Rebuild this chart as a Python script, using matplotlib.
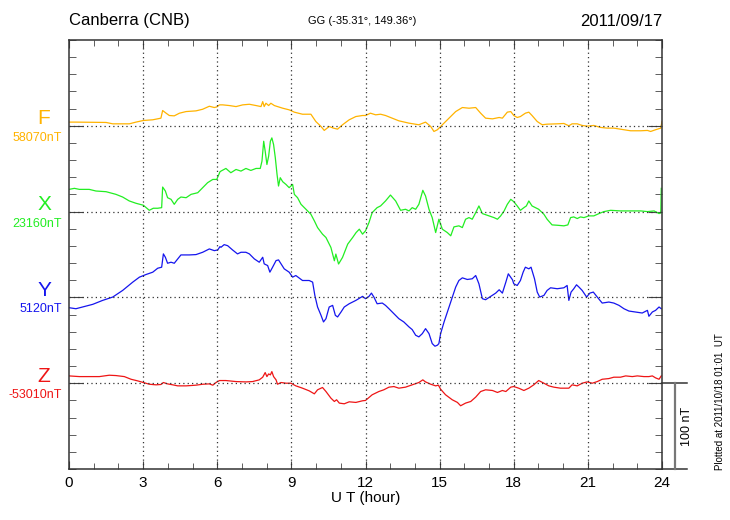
import numpy as np
import matplotlib
matplotlib.use('Agg')
import matplotlib.pyplot as plt
from matplotlib.ticker import MultipleLocator
import matplotlib.transforms as mtransforms

plt.rcParams['font.family'] = ['Liberation Sans', 'DejaVu Sans']

# hours (UT) and deviation from baseline (nT)
f_hr = [0, 0.28, 1.5, 1.77, 2.44, 2.71, 3.01, 3.39, 3.72, 3.79, 3.93, 4.06, 4.26, 4.47, 4.74, 5.14, 5.41, 5.68, 5.88, 5.98, 6.09,
        6.22, 6.49, 6.76, 7.03, 7.3, 7.57, 7.77, 7.84, 7.9, 7.97, 8.08, 8.17, 8.31, 8.44, 8.65, 8.91, 9.12, 9.45, 9.79, 9.99,
        10.2, 10.33, 10.53, 10.7, 10.87, 11.07, 11.34, 11.61, 11.88,
        12.0, 12.2, 12.41, 12.61, 12.81, 13.08, 13.35, 13.76, 14.16, 14.43, 14.64, 14.77, 14.91, 15.11, 15.38, 15.65, 15.92,
        16.19, 16.46, 16.66, 16.86, 17.14, 17.41, 17.54, 17.74, 17.88,
        18.0, 18.14, 18.27, 18.47, 18.61, 18.74, 18.95, 19.15, 19.35, 19.76, 20.03, 20.23, 20.36, 20.57, 20.77, 20.97, 21.24,
        21.51, 21.78, 22.05, 22.46, 22.73, 23.14, 23.41, 23.54, 23.74, 23.95, 24.0]
f_nt = [4.3, 4.3, 3.9, 2.3, 2.3, 4.3, 6.2, 7.0, 8.9, 17.8, 14.7, 12.0, 11.6, 14.7, 16.6, 17.4, 19.3, 22.8, 21.3, 22.0, 24.4,
        24.4, 23.6, 22.4, 24.4, 25.1, 23.6, 22.4, 28.2, 22.4, 26.3, 23.6, 26.3, 23.6, 22.4, 20.5, 18.6, 15.9, 13.5, 13.5, 5.0,
        -0.8, -5.4, -0.8, -2.7, -3.9, 1.2, 7.0, 10.8, 12.0,
        12.0, 14.7, 12.8, 13.5, 12.0, 8.9, 5.8, 3.1, 1.2, 4.3, -0.8, -6.6, -4.6, 1.2, 8.9, 16.6, 21.3,
        20.5, 21.3, 14.7, 8.9, 8.1, 9.7, 8.9, 15.9, 16.6,
        12.0, 9.7, 10.8, 14.7, 15.9, 12.0, 5.0, 1.2, 1.9, 2.3, 2.7, 0.0, 2.3, 2.3, 0.4, -0.4, 0.4,
        -1.9, -2.7, -2.7, -4.6, -5.8, -5.8, -5.4, -6.6, -4.6, -2.7, 5.0]

x_hr = [0, 0.22, 0.42, 0.82, 1.09, 1.5, 1.9, 2.17, 2.44, 2.71, 3.01, 3.25, 3.41, 3.59, 3.75, 3.79, 3.9, 3.99, 4.13, 4.26,
        4.4, 4.53, 4.74, 4.94, 5.21, 5.41, 5.61, 5.82, 5.98, 6.11,
        6.15, 6.35, 6.55, 6.76, 6.96, 7.16, 7.36, 7.57, 7.74, 7.81, 7.88, 7.94, 8.01, 8.08, 8.15, 8.21, 8.28, 8.35, 8.42,
        8.48, 8.55, 8.65, 8.78, 8.91, 9.05, 9.12, 9.25, 9.39, 9.59, 9.79, 9.93, 10.06, 10.26, 10.4, 10.6, 10.74, 10.8,
        10.91, 11.07, 11.28, 11.48, 11.62, 11.75, 11.88,
        12.0, 12.14, 12.27, 12.47, 12.61, 12.81, 13.01, 13.22, 13.42, 13.62, 13.76, 13.89, 14.03, 14.16, 14.32, 14.43,
        14.57, 14.7, 14.84, 14.97, 15.11, 15.31, 15.45, 15.58, 15.78, 15.92, 16.05, 16.19, 16.32, 16.46, 16.59, 16.73,
        17.0, 17.2, 17.34, 17.47, 17.61, 17.74, 17.88,
        18.0, 18.14, 18.27, 18.41, 18.51, 18.61, 18.74, 18.88, 19.01, 19.22, 19.35, 19.55, 19.76, 20.03, 20.19, 20.3,
        20.43, 20.57, 20.7, 20.84, 21.04, 21.24, 21.45, 21.65, 21.92, 22.32, 22.73, 23.14, 23.41, 23.68, 23.88, 23.95, 23.97]
x_nt = [25.9, 27.1, 25.9, 25.9, 24.0, 23.2, 20.1, 17.0, 12.4, 9.7, 7.4, 1.5, 3.9, 3.9, 4.6, 28.6, 24.0, 16.2, 14.3, 8.5,
        14.3, 17.0, 16.2, 20.1, 22.0, 27.9, 33.7, 37.5, 37.5, 46.4,
        47.2, 50.3, 45.3, 49.1, 47.2, 50.3, 48.0, 50.3, 50.3, 58.8, 82.0, 70.4, 54.9, 64.6, 82.0, 85.9, 78.1, 62.7, 43.3,
        29.8, 39.5, 34.8, 31.7, 27.9, 31.7, 20.1, 16.2, 8.5, 2.7, -3.1, -10.8, -18.6, -26.3, -30.2, -41.8, -57.3, -49.5,
        -61.1, -53.4, -37.9, -30.2, -24.4, -20.5, -26.3,
        -22.4, -12.8, -1.2, 4.6, 6.6, 12.4, 19.3, 12.4, 1.5, 2.7, 0.8, 4.6, 2.7, 8.5, 24.8, 18.2,
        2.7, -7.0, -24.4, -8.9, -20.5, -24.4, -28.2, -17.8, -16.6, -18.6, -8.9, -7.0, -8.9, -1.2, 6.6, -2.3,
        -5.0, -7.0, -8.9, -5.0, 0.8, 8.5, 14.3,
        11.6, 6.6, 1.5, 4.6, 6.6, 12.4, 6.6, 4.6, 2.7, -3.1, -8.9, -15.5, -15.9, -16.6, -15.5, -7.0,
        -6.2, -8.1, -6.2, -7.0, -5.0, -5.0, -2.3, 0.0, 1.5, 0.8, 0.8, 0.8, 0.0, 0.8, -2.3, -1.5, 27.1]

y_hr = [0, 0.28, 0.55, 0.96, 1.36, 1.77, 2.17, 2.58, 2.85, 3.12, 3.39, 3.59, 3.75, 3.82, 3.9, 3.99, 4.13, 4.26, 4.4, 4.53,
        4.87, 5.14, 5.41, 5.68, 5.88, 6.02, 6.11,
        6.15, 6.28, 6.42, 6.62, 6.82, 6.96, 7.16, 7.3, 7.5, 7.7, 7.84, 7.9, 8.04, 8.13, 8.24, 8.38, 8.48, 8.58, 8.71, 8.91,
        9.05, 9.18, 9.45, 9.72, 9.86, 9.95, 10.06, 10.2, 10.3, 10.4, 10.53, 10.67, 10.78, 10.87, 11.01, 11.14, 11.34,
        11.61, 11.88,
        12.0, 12.14, 12.24, 12.34, 12.47, 12.68, 12.81, 12.95, 13.15, 13.35, 13.55, 13.76, 13.89, 14.03, 14.16, 14.3,
        14.43, 14.57, 14.7, 14.81, 14.91, 14.97, 15.04, 15.18, 15.38, 15.51, 15.65, 15.78, 15.92, 16.12, 16.32, 16.46,
        16.59, 16.73, 16.86, 17.07, 17.27, 17.41, 17.54, 17.68, 17.78, 17.95,
        18.0, 18.14, 18.27, 18.38, 18.47, 18.61, 18.7, 18.84, 18.95, 19.05, 19.22, 19.35, 19.49, 19.76, 20.03, 20.16,
        20.23, 20.32, 20.43, 20.54, 20.64, 20.77, 20.95, 21.08, 21.22, 21.38, 21.58, 21.85, 22.05, 22.26, 22.46, 22.66,
        22.93, 23.2, 23.41, 23.47, 23.61, 23.74, 23.88, 23.97]
y_nt = [-12.0, -13.2, -11.2, -8.1, -3.5, 0.4, 8.1, 17.8, 23.6, 26.7, 29.4, 34.0, 35.2, 50.7, 46.8, 39.8, 41.0, 39.8, 44.9,
        49.5, 49.5, 49.9, 52.6, 56.5, 54.5, 55.3, 59.2,
        58.4, 61.5, 60.3, 55.3, 50.7, 52.6, 52.6, 50.7, 44.9, 41.0, 46.8, 39.1, 37.1, 29.4, 35.2, 42.9, 43.7, 39.1, 33.3,
        29.4, 23.6, 25.5, 19.7, 19.7, 17.8, 2.3, -11.2, -20.9, -28.6, -24.8, -11.2, -9.3, -20.9, -22.8, -17.0, -11.2,
        -7.4, -3.5, 1.2,
        -1.5, 1.2, 5.0, 0.4, -7.4, -6.6, -9.3, -13.2, -19.0, -24.8, -28.6, -34.4, -37.5, -44.1, -46.0, -42.2,
        -36.4, -42.2, -53.8, -56.9, -55.7, -53.8, -42.2, -28.6, -11.2, 0.4, 12.0, 19.7, 22.8, 20.9, 21.7, 25.5,
        15.9, -1.5, -2.7, 1.2, 5.0, 8.9, 5.0, 17.8, 27.5, 20.5,
        15.9, 13.9, 19.7, 29.4, 35.2, 33.3, 35.2, 21.7, 6.2, 0.4, 2.3, 8.1, 11.2, 10.1, 11.2, 13.9,
        -3.5, 6.2, 10.1, 14.7, 12.0, 8.1, 0.4, 5.0, 6.2, 0.4, -6.6, -5.4, -6.6, -9.3, -13.2, -15.9,
        -17.0, -18.2, -15.1, -22.0, -17.0, -15.1, -11.2, -13.2]

z_hr = [0, 0.42, 0.82, 1.23, 1.63, 1.9, 2.24, 2.51, 2.78, 3.01, 3.25, 3.52, 3.72, 3.82, 3.99, 4.2, 4.4, 4.74, 5.14, 5.41,
        5.68, 5.82, 5.95, 6.09,
        6.35, 6.76, 7.16, 7.43, 7.7, 7.84, 7.94, 8.01, 8.08, 8.15, 8.21, 8.28, 8.38, 8.44, 8.58, 8.78, 8.98, 9.18, 9.45,
        9.72, 9.93, 10.06, 10.26, 10.4, 10.6, 10.74, 10.83, 10.94, 11.14, 11.34, 11.61, 11.88,
        12.0, 12.27, 12.54, 12.74, 12.95, 13.15, 13.35, 13.62, 13.89, 14.16, 14.32, 14.43, 14.64, 14.84, 14.95, 15.04,
        15.24, 15.51, 15.72, 15.85, 16.05, 16.26, 16.46, 16.66, 16.86, 17.14, 17.34, 17.54, 17.68, 17.88,
        18.0, 18.2, 18.41, 18.61, 18.81, 19.01, 19.22, 19.42, 19.62, 19.89, 20.23, 20.36, 20.57, 20.77, 20.97, 21.18,
        21.38, 21.58, 21.85, 22.05, 22.32, 22.53, 22.8, 23.0, 23.27, 23.47, 23.61, 23.74, 23.88, 23.97]
z_nt = [8.5, 7.7, 7.7, 7.7, 9.3, 8.9, 7.7, 4.6, 2.7, 0.8, -1.2, -1.9, -1.5, 0.8, -0.8, -1.9, -3.1, -3.1, -2.3, -1.2,
        -0.8, -2.3, 0.8, 3.1,
        3.1, 1.9, 1.5, 1.9, 3.9, 7.0, 12.4, 7.7, 10.8, 9.7, 13.5, 7.7, 3.9, -1.2, 0.8, 0.0, 0.0, -3.1, -5.8,
        -8.9, -12.4, -7.7, -5.0, -9.7, -17.4, -21.3, -19.3, -23.2, -24.0, -21.7, -22.4, -20.5,
        -20.1, -13.5, -9.7, -7.7, -4.6, -3.9, -5.8, -4.6, -1.9, 0.8, 3.9, 1.5, -1.2, -3.1, -2.3, -7.0,
        -13.5, -19.3, -22.4, -26.3, -23.2, -21.3, -16.2, -9.7, -7.7, -8.5, -10.8, -8.5, -9.7, -4.6,
        -3.9, -5.8, -8.5, -5.8, -1.9, 3.1, 0.0, -3.1, -4.6, -5.8, -5.8, -1.9, -3.1, 0.0, 1.5, 0.0,
        1.9, 4.6, 5.4, 7.0, 7.0, 8.5, 7.7, 8.5, 7.7, 7.7, 8.5, 6.2, 4.6, 8.5]

names = ['F', 'X', 'Y', 'Z']
base_vals = ['58070nT', '23160nT', '5120nT', '-53010nT']
colors = ['#ffb300', '#22ee22', '#1515ee', '#ee1515']
series = [(f_hr, f_nt), (x_hr, x_nt), (y_hr, y_nt), (z_hr, z_nt)]
offsets = [300, 200, 100, 0]

fig = plt.figure(figsize=(7.3, 5.2), dpi=100)
ax = fig.add_axes([69 / 730, 1 - 469 / 520, 593 / 730, 429 / 520])

for (hr, nt), off, c in zip(series, offsets, colors):
    ax.plot(hr, np.array(nt) + off, color=c, lw=0.9)

for off in offsets:
    ax.axhline(off, color='#333333', lw=0.9, ls=(0, (1, 2.5)))
for h in range(3, 24, 3):
    ax.axvline(h, color='#333333', lw=0.9, ls=(0, (1, 2.5)))

ax.set_xlim(0, 24)
ax.set_ylim(-100, 400)
ax.set_xticks(range(0, 25, 3))
ax.xaxis.set_minor_locator(MultipleLocator(1))
ax.set_yticks(offsets)
ax.yaxis.set_minor_locator(MultipleLocator(20))
ax.set_yticklabels([])
ax.tick_params(axis='both', which='both', direction='in', top=True, right=True, color='#444444')
ax.tick_params(axis='x', which='major', length=6, labelsize=11, pad=5)
ax.tick_params(axis='x', which='minor', length=4)
ax.tick_params(axis='y', which='major', length=10)
ax.tick_params(axis='y', which='minor', length=5)
for s in ax.spines.values():
    s.set_color('#333333')
    s.set_linewidth(1.1)
ax.set_xlabel('U T (hour)', fontsize=11, labelpad=1)

# component labels
for name, bv, c, off in zip(names, base_vals, colors, offsets):
    tr = mtransforms.blended_transform_factory(ax.transAxes, ax.transData)
    ax.text(-0.042, off + 8, name, color=c, fontsize=15, ha='center', va='center', transform=tr)
    ax.text(-0.012, off - 14, bv, color=c, fontsize=9, ha='right', va='center', transform=tr)

# scale bar on the right
tr = mtransforms.blended_transform_factory(ax.transAxes, ax.transData)
ax.plot([1.0, 1.042], [0, 0], color='#333333', lw=1.1, transform=tr, clip_on=False)
ax.plot([1.0, 1.042], [-100, -100], color='#333333', lw=1.1, transform=tr, clip_on=False)
ax.plot([1.022, 1.022], [0, -100], color='#777777', lw=1.6, transform=tr, clip_on=False)
ax.text(1.043, -50, '100 nT', rotation=90, fontsize=9, ha='center', va='center', transform=tr)

fig.text(69 / 730, 1 - 21 / 520, 'Canberra (CNB)', fontsize=12, ha='left', va='center')
fig.text(362 / 730, 1 - 21 / 520, 'GG (-35.31°, 149.36°)', fontsize=8, ha='center', va='center')
fig.text(662 / 730, 1 - 21 / 520, '2011/09/17', fontsize=12, ha='right', va='center')
fig.text(720 / 730, 1 - 402 / 520, 'Plotted at 2011/10/18 01:01  UT', fontsize=7, rotation=90,
         ha='center', va='center')

fig.savefig('out.png', dpi=100)
